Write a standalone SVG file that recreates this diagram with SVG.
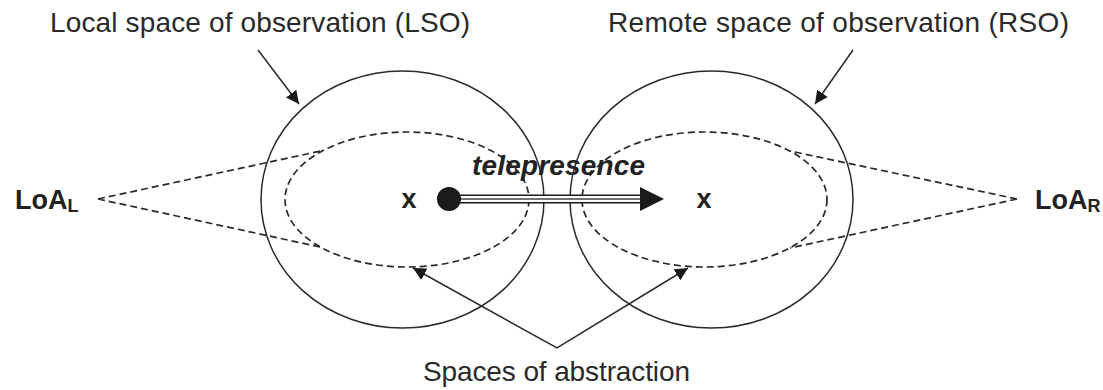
<svg xmlns="http://www.w3.org/2000/svg" width="1103" height="390" viewBox="0 0 1103 390">
<style>
  .lbl{font-family:"Liberation Sans",Arial,sans-serif;font-size:28px;fill:#2a2a2a}
  .bold{font-family:"Liberation Sans",Arial,sans-serif;font-weight:bold;fill:#222}
  .space{fill:none;stroke:#2a2a2a;stroke-width:1.5}
  .dash{fill:none;stroke:#2a2a2a;stroke-width:1.7;stroke-dasharray:7 4}
  .ptr{fill:none;stroke:#2a2a2a;stroke-width:1.5}
</style>
<defs>
  <marker id="head" viewBox="0 0 10 10" refX="10" refY="5" markerWidth="13" markerHeight="13" markerUnits="userSpaceOnUse" orient="auto">
    <path d="M0,0 L10,5 L0,10 z" fill="#1a1a1a"/>
  </marker>
  <marker id="headrev" viewBox="0 0 10 10" refX="0" refY="5" markerWidth="13" markerHeight="13" markerUnits="userSpaceOnUse" orient="auto">
    <path d="M10,0 L0,5 L10,10 z" fill="#1a1a1a"/>
  </marker>
</defs>
<rect width="1103" height="390" fill="#fff"/>

<g id="lso">
  <ellipse class="space" cx="402.5" cy="199.5" rx="141.5" ry="128.5"/>
  <text class="lbl" x="50" y="32" textLength="420" lengthAdjust="spacing">Local space of observation (LSO)</text>
</g>
<g id="rso">
  <ellipse class="space" cx="711.5" cy="199.5" rx="141.5" ry="128.5"/>
  <text class="lbl" x="608" y="32" textLength="461" lengthAdjust="spacing">Remote space of observation (RSO)</text>
</g>
<g id="abstraction-left">
  <ellipse class="dash" cx="407" cy="199.5" rx="122" ry="67.5"/>
  <text class="bold" x="409" y="208" font-size="27" text-anchor="middle">x</text>
</g>
<g id="abstraction-right">
  <ellipse class="dash" cx="704.5" cy="199.5" rx="122.5" ry="67.5"/>
  <text class="bold" x="704" y="208" font-size="27" text-anchor="middle">x</text>
</g>
<g id="loa-left">
  <text class="bold" x="15" y="209" font-size="27">LoA<tspan font-size="18" dy="2.5">L</tspan></text>
</g>
<g id="loa-right">
  <text class="bold" x="1035" y="209" font-size="27">LoA<tspan font-size="18" dy="2.5">R</tspan></text>
</g>
<g id="abstraction-label">
  <text class="lbl" x="423" y="381" textLength="267" lengthAdjust="spacing">Spaces of abstraction</text>
</g>
<g id="telepresence">
  <text class="bold" x="472" y="175" font-size="28" font-style="italic" textLength="173" lengthAdjust="spacing">telepresence</text>
</g>

<g id="connectors">
  <path class="dash" d="M98,199 L323,150.5 M98,199 L320,247"/>
  <path class="dash" d="M1017,199 L790,151 M1017,199 L790,248"/>
  <line class="ptr" x1="258" y1="50" x2="299" y2="104" marker-end="url(#head)"/>
  <line class="ptr" x1="853" y1="50" x2="815" y2="104" marker-end="url(#head)"/>
  <polyline class="ptr" points="413,268 557,348 688,268" marker-end="url(#head)" marker-start="url(#headrev)"/>
  <g id="tele-arrow">
    <line x1="449" y1="199" x2="642" y2="199" stroke="#1a1a1a" stroke-width="9"/>
    <line x1="449" y1="199" x2="642" y2="199" stroke="#fff" stroke-width="6"/>
    <line x1="449" y1="199" x2="642" y2="199" stroke="#444" stroke-width="1.6"/>
    <circle cx="449" cy="199" r="12" fill="#1a1a1a"/>
    <path d="M640,187 L664,199 L640,211 z" fill="#1a1a1a"/>
  </g>
</g>
</svg>
